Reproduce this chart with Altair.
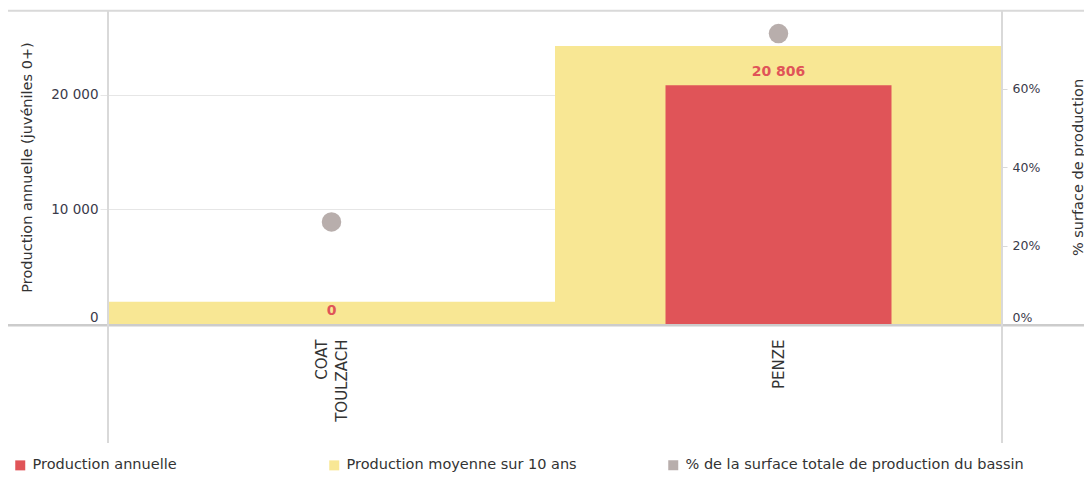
import altair as alt
import pandas as pd

# ---- data ----
categories = ["COAT TOULZACH", "PENZE"]
production_annuelle = [0, 20806]
production_moyenne_10ans = [1950, 24240]
pct_surface_bassin = [0.26, 0.74]

serie_annuelle = "Production annuelle"
serie_moyenne = "Production moyenne sur 10 ans"
serie_surface = "% de la surface totale de production du bassin"

df = pd.DataFrame({
    "riviere": categories,
    "annuelle": production_annuelle,
    "moyenne": production_moyenne_10ans,
    "surface": pct_surface_bassin,
})
df["s_annuelle"] = serie_annuelle
df["s_moyenne"] = serie_moyenne
df["s_surface"] = serie_surface

RED = "#E05458"
YELLOW = "#F8E794"
GRAY = "#B8AEAC"
FRAME = "#D9D9D9"
FONT = "DejaVu Sans"

x_enc = alt.X(
    "riviere:N",
    sort=categories,
    scale=alt.Scale(paddingInner=0, paddingOuter=0),
    axis=alt.Axis(
        title=None, labelAngle=270, labelExpr="split(datum.label, ' ')",
        labelOffset=alt.expr("-(length(split(datum.value, ' ')) - 1) * 10"),
        labelFont=FONT, labelFontSize=15, labelColor="#333", labelLineHeight=20,
        labelPadding=15, ticks=False, tickSize=0, domain=False, grid=False,
    ),
)

y_left_scale = alt.Scale(domain=[0, 27375], nice=False, zero=True)
y_left_axis = alt.Axis(
    title="Production annuelle (juvéniles 0+)",
    values=[0, 10000, 20000],
    labelExpr="replace(format(datum.value, ','), ',', ' ')",
    grid=True, gridColor="#E6E6E6", domain=False,
    tickSize=8, tickColor="#E6E6E6", labelPadding=2, labelFlush=True,
    labelFont=FONT, labelFontSize=13.5, labelColor="#3a3a4a",
    titleFont=FONT, titleFontSize=14.5, titleFontWeight="normal", titleColor="#333",
    titleAngle=270, titleX=-81, titleY=157, titleAlign="center", titleBaseline="middle",
)

color_scale = alt.Scale(domain=[serie_annuelle, serie_moyenne], range=[RED, YELLOW])
legend_bars = alt.Legend(
    title=None, orient="none", legendX=-95, legendY=448, direction="horizontal",
    symbolType="square", symbolSize=100, symbolStrokeWidth=0, padding=0,
    labelFont=FONT, labelFontSize=14.5, labelColor="#333", labelOffset=5,
    columnPadding=150, labelLimit=500,
)

yellow = alt.Chart(df).mark_bar().encode(
    x=x_enc,
    y=alt.Y("moyenne:Q", scale=y_left_scale, axis=y_left_axis),
    color=alt.Color("s_moyenne:N", scale=color_scale, legend=legend_bars),
)

red = alt.Chart(df).mark_bar(size=226).encode(
    x=x_enc,
    y=alt.Y("annuelle:Q", scale=y_left_scale, axis=y_left_axis),
    color=alt.Color("s_annuelle:N", scale=color_scale, legend=legend_bars),
)

labels = alt.Chart(df).transform_calculate(
    lbl="replace(format(datum.annuelle, ','), ',', ' ')"
).mark_text(
    dy=-13.5, font=FONT, fontSize=14, fontWeight="bold", color=RED
).encode(
    x=x_enc,
    y=alt.Y("annuelle:Q", scale=y_left_scale, axis=y_left_axis),
    text="lbl:N",
)

bars = alt.layer(yellow, red, labels)

points = alt.Chart(df).mark_point(filled=True, size=380, color=GRAY).encode(
    x=x_enc,
    y=alt.Y(
        "surface:Q",
        scale=alt.Scale(domain=[0, 0.8], nice=False, zero=True),
        axis=alt.Axis(
            orient="right", title="% surface de production",
            values=[0, 0.2, 0.4, 0.6], format=".0%",
            grid=False, domain=False, tickSize=5, tickColor=FRAME,
            labelPadding=5, labelFlush=True,
            labelFont=FONT, labelFontSize=12.5, labelColor="#3a3a4a",
            titleFont=FONT, titleFontSize=14.5, titleFontWeight="normal", titleColor="#333",
            titleAngle=270, titleX=76, titleY=157, titleAlign="center", titleBaseline="middle",
        ),
    ),
    opacity=alt.Opacity(
        "s_surface:N",
        scale=alt.Scale(domain=[serie_surface], range=[1]),
        legend=alt.Legend(
            title=None, orient="none", legendX=558, legendY=448,
            symbolType="square", symbolSize=100, symbolFillColor=GRAY,
            symbolStrokeWidth=0, symbolOpacity=1, padding=0,
            labelFont=FONT, labelFontSize=14.5, labelColor="#333", labelOffset=5,
            labelLimit=500,
        ),
    ),
)

one = pd.DataFrame({"k": [0]})
top_line = alt.Chart(one).mark_rule(color=FRAME, strokeWidth=2).encode(
    x=alt.value(-100), x2=alt.value(976), y=alt.value(0.7))
bottom_line = alt.Chart(one).mark_rule(color="#CCCCCC", strokeWidth=2.5).encode(
    x=alt.value(-100), x2=alt.value(976), y=alt.value(315.3))
left_line = alt.Chart(one).mark_rule(color=FRAME, strokeWidth=2).encode(
    x=alt.value(0), y=alt.value(0), y2=alt.value(433))
right_line = alt.Chart(one).mark_rule(color=FRAME, strokeWidth=2).encode(
    x=alt.value(894), y=alt.value(0), y2=alt.value(433))

chart = alt.layer(
    bars, points, top_line, bottom_line, left_line, right_line
).resolve_scale(
    y="independent"
).properties(
    width=894,
    height=314,
    autosize=alt.AutoSizeParams(type="none"),
    padding={"left": 100, "top": 2, "right": 82, "bottom": 149},
    background="white",
).configure_view(stroke=None)

chart.save("out.html", embed_options={"renderer": "svg", "actions": False})
